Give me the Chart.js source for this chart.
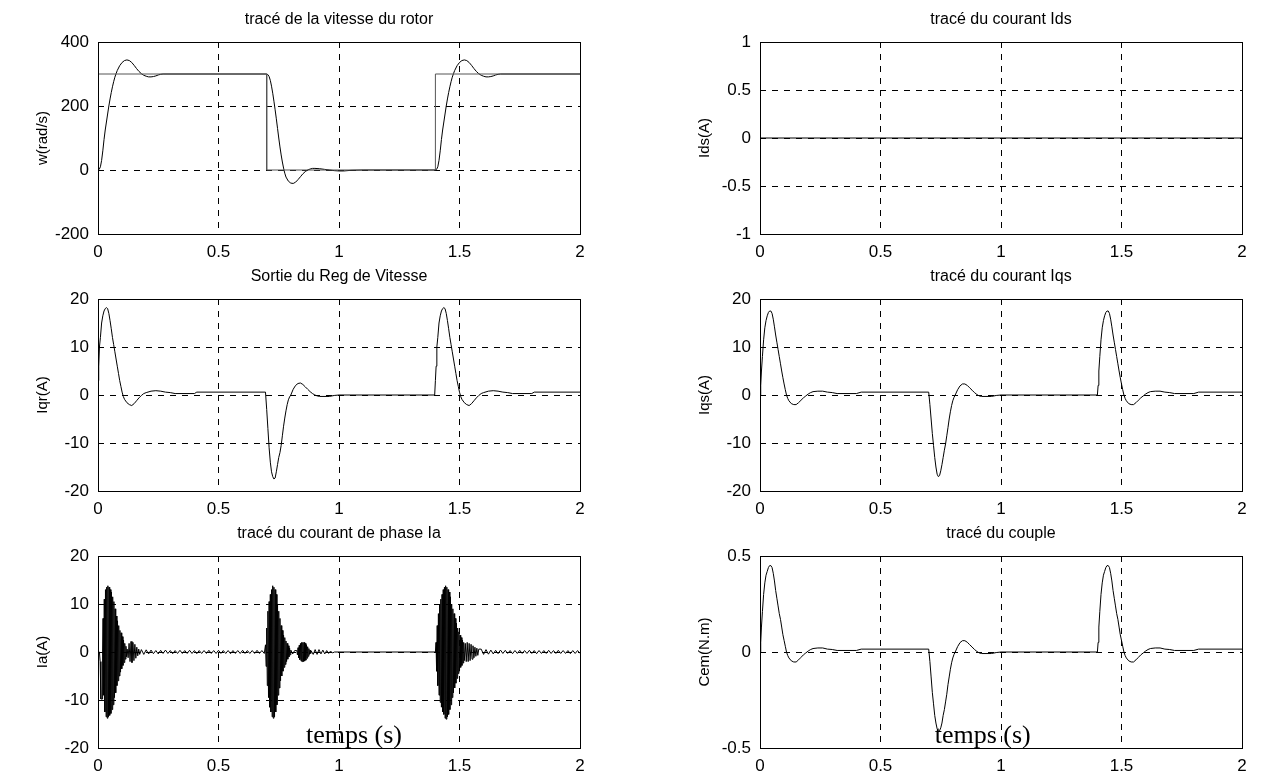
<!DOCTYPE html>
<html lang="fr">
<head>
<meta charset="utf-8">
<title>Commande vectorielle - résultats de simulation</title>
<script src="https://cdn.jsdelivr.net/npm/chart.js@4.4.1/dist/chart.umd.min.js"></script>
<style>
  html, body { margin: 0; padding: 0; background: #fff; overflow: hidden; }
  #figure { position: relative; width: 1263px; height: 778px; }
  #figure canvas { position: absolute; }
</style>
</head>
<body>
<div id="figure">
  <canvas id="speedChart"></canvas>
  <canvas id="idsChart"></canvas>
  <canvas id="iqrChart"></canvas>
  <canvas id="iqsChart"></canvas>
  <canvas id="iaChart"></canvas>
  <canvas id="cemChart"></canvas>
</div>
<script>
/* ==========================================================================
   Simulation results — 3x2 grid of time plots (Chart.js)
   ========================================================================== */

// ---- tick values -----------------------------------------------------------
const timeTicks = [0, 0.5, 1, 1.5, 2];
const speedTicks = [-200, 0, 200, 400];
const currentTicks = [-20, -10, 0, 10, 20];
const idsTicks = [-1, -0.5, 0, 0.5, 1];
const torqueTicks = [-0.5, 0, 0.5];

// ---- rotor speed (rad/s): reference step + response --------------------------
const speedRefTime = [0, 0.7, 0.7, 1.4, 1.4, 2];
const speedRefValues = [300, 300, 0, 0, 300, 300];

const speedTime = [
  0, 0.005, 0.01, 0.015, 0.02, 0.025, 0.03, 0.035, 0.04, 0.045,
  0.05, 0.055, 0.06, 0.065, 0.07, 0.075, 0.08, 0.09, 0.1, 0.11,
  0.12, 0.13, 0.14, 0.15, 0.16, 0.17, 0.18, 0.19, 0.2, 0.21,
  0.22, 0.23, 0.24, 0.25, 0.26, 0.27, 0.7,
  0.705, 0.71, 0.715, 0.72, 0.725, 0.73, 0.735, 0.74, 0.745, 0.75,
  0.755, 0.76, 0.765, 0.77, 0.775, 0.78, 0.79, 0.8, 0.81, 0.82,
  0.83, 0.84, 0.85, 0.86, 0.87, 0.88, 0.89, 0.9, 0.92, 0.94,
  0.96, 0.98, 1.0, 1.02, 1.05, 1.1, 1.4,
  1.405, 1.41, 1.415, 1.42, 1.425, 1.43, 1.435, 1.44, 1.445, 1.45,
  1.455, 1.46, 1.465, 1.47, 1.475, 1.48, 1.49, 1.5, 1.51, 1.52,
  1.53, 1.54, 1.55, 1.56, 1.57, 1.58, 1.59, 1.6, 1.61, 1.62,
  1.63, 1.64, 1.65, 1.66, 1.67, 2.0
];
const speedValues = [
  0, 2, 10, 30, 60, 95, 125, 150, 175, 200,
  222, 242, 260, 276, 290, 301, 311, 326, 336, 342,
  344, 342, 336, 327, 317, 308, 301, 296, 293, 291,
  291, 292, 294, 297, 299, 300, 300,
  298, 292, 280, 262, 240, 215, 188, 160, 130, 100,
  72, 47, 25, 6, -10, -22, -35, -41, -42, -38,
  -30, -21, -12, -5, 0, 3, 5, 5, 4, 2,
  0, -2, -3, -3, -1, 0, 0,
  2, 10, 30, 60, 95, 125, 150, 175, 200, 222,
  242, 260, 276, 290, 301, 311, 326, 336, 342, 344,
  342, 336, 327, 317, 308, 301, 296, 293, 291, 291,
  292, 294, 297, 299, 300, 300
];

// ---- speed regulator output Iqr (A) -------------------------------------------
const iqrTime = [
  0, 0.003, 0.006, 0.01, 0.015, 0.02, 0.025, 0.03, 0.035, 0.04,
  0.045, 0.05, 0.055, 0.06, 0.065, 0.07, 0.075, 0.08, 0.085, 0.09,
  0.095, 0.1, 0.105, 0.11, 0.12, 0.13, 0.14, 0.15, 0.16, 0.17,
  0.18, 0.19, 0.2, 0.22, 0.24, 0.26, 0.28, 0.3, 0.32, 0.4,
  0.41, 0.695,
  0.7, 0.705, 0.71, 0.715, 0.72, 0.725, 0.73, 0.735, 0.74, 0.745,
  0.75, 0.755, 0.76, 0.765, 0.77, 0.775, 0.78, 0.785, 0.79, 0.795,
  0.8, 0.81, 0.82, 0.83, 0.84, 0.85, 0.86, 0.87, 0.88, 0.89,
  0.9, 0.91, 0.92, 0.96, 0.98, 1.0, 1.397,
  1.4, 1.403, 1.406, 1.41, 1.415, 1.42, 1.425, 1.43, 1.435, 1.44,
  1.445, 1.45, 1.455, 1.46, 1.465, 1.47, 1.475, 1.48, 1.485, 1.49,
  1.495, 1.5, 1.505, 1.51, 1.52, 1.53, 1.54, 1.55, 1.56, 1.57,
  1.58, 1.59, 1.6, 1.62, 1.64, 1.66, 1.68, 1.7, 1.72, 1.8,
  1.81, 2.0
];
const iqrValues = [
  3, 6, 10, 12, 15, 16.5, 17.5, 18, 18.2, 18,
  17, 15.5, 13.8, 12, 10.5, 9, 7.5, 6, 4.5, 3,
  1.8, 0.6, -0.3, -0.9, -1.6, -2, -2.2, -1.8, -1.2, -0.6,
  -0.1, 0.3, 0.5, 0.8, 0.9, 0.8, 0.6, 0.5, 0.3, 0.3,
  0.6, 0.6,
  -3, -7, -11, -14, -16, -17, -17.5, -17.3, -16, -14.5,
  -13, -12, -10.5, -8.5, -6.5, -4.8, -3.3, -2, -1, -0.4,
  0, 1.2, 2, 2.4, 2.5, 2.2, 1.7, 1.2, 0.7, 0.3,
  0, -0.2, -0.3, -0.3, -0.1, 0, 0,
  3, 6, 10, 12, 15, 16.5, 17.5, 18, 18.2, 18,
  17, 15.5, 13.8, 12, 10.5, 9, 7.5, 6, 4.5, 3,
  1.8, 0.6, -0.3, -0.9, -1.6, -2, -2.2, -1.8, -1.2, -0.6,
  -0.1, 0.3, 0.5, 0.8, 0.9, 0.8, 0.6, 0.5, 0.3, 0.3,
  0.6, 0.6
];

// ---- Ids (A) -----------------------------------------------------------------
const idsTime = [0, 2];
const idsValues = [0, 0];

// ---- Iqs (A) and electromagnetic torque Cem (N.m), same time base -------------
const machineTime = [
  0, 0.003, 0.006, 0.01, 0.015, 0.02, 0.025, 0.03, 0.035, 0.04,
  0.045, 0.05, 0.055, 0.06, 0.065, 0.07, 0.075, 0.08, 0.085, 0.09,
  0.095, 0.1, 0.105, 0.11, 0.115, 0.12, 0.13, 0.14, 0.15, 0.16,
  0.17, 0.18, 0.19, 0.2, 0.21, 0.22, 0.24, 0.26, 0.28, 0.3,
  0.32, 0.4, 0.42, 0.7,
  0.705, 0.71, 0.715, 0.72, 0.725, 0.73, 0.735, 0.74, 0.745, 0.75,
  0.755, 0.76, 0.765, 0.77, 0.775, 0.78, 0.785, 0.79, 0.795, 0.8,
  0.805, 0.81, 0.82, 0.83, 0.84, 0.85, 0.86, 0.87, 0.88, 0.89,
  0.9, 0.91, 0.92, 0.96, 0.98, 1.0, 1.4,
  1.403, 1.406, 1.41, 1.415, 1.42, 1.425, 1.43, 1.435, 1.44, 1.445,
  1.45, 1.455, 1.46, 1.465, 1.47, 1.475, 1.48, 1.485, 1.49, 1.495,
  1.5, 1.505, 1.51, 1.515, 1.52, 1.53, 1.54, 1.55, 1.56, 1.57,
  1.58, 1.59, 1.6, 1.61, 1.62, 1.64, 1.66, 1.68, 1.7, 1.72,
  1.8, 1.82, 2.0
];
const iqsValues = [
  0, 2, 5, 8, 11.5, 14, 15.5, 16.5, 17.2, 17.5,
  17.5, 17, 15.8, 14.2, 12.5, 11, 9.5, 8, 6.5, 5,
  3.6, 2.3, 1.1, 0, -0.7, -1.2, -1.8, -2, -2, -1.6,
  -1.1, -0.6, -0.2, 0.2, 0.5, 0.7, 0.8, 0.8, 0.6, 0.5,
  0.3, 0.3, 0.6, 0.6,
  -2, -5, -8, -10.5, -13, -15, -16.5, -17, -16.8, -15.8,
  -14.5, -13, -11.5, -10.2, -8.5, -6.8, -5, -3.5, -2.2, -1.2,
  -0.5, 0, 1.1, 1.9, 2.3, 2.3, 2, 1.5, 1, 0.5,
  0.1, -0.2, -0.3, -0.3, -0.1, 0, 0,
  2, 5, 8, 11.5, 14, 15.5, 16.5, 17.2, 17.5, 17.5,
  17, 15.8, 14.2, 12.5, 11, 9.5, 8, 6.5, 5, 3.6,
  2.3, 1.1, 0, -0.7, -1.2, -1.8, -2, -2, -1.6, -1.1,
  -0.6, -0.2, 0.2, 0.5, 0.7, 0.8, 0.8, 0.6, 0.5, 0.3,
  0.3, 0.6, 0.6
];
const cemValues = [
  0, 0.05, 0.13, 0.21, 0.3, 0.36, 0.4, 0.42, 0.44, 0.45,
  0.45, 0.44, 0.41, 0.37, 0.32, 0.28, 0.24, 0.2, 0.17, 0.13,
  0.09, 0.06, 0.03, 0, -0.018, -0.031, -0.046, -0.052, -0.052, -0.041,
  -0.028, -0.015, -0.005, 0.005, 0.013, 0.018, 0.021, 0.021, 0.015, 0.013,
  0.008, 0.008, 0.015, 0.015,
  -0.05, -0.13, -0.21, -0.27, -0.33, -0.37, -0.4, -0.415, -0.41, -0.395,
  -0.37, -0.33, -0.3, -0.26, -0.22, -0.17, -0.13, -0.09, -0.056, -0.031,
  -0.013, 0, 0.028, 0.049, 0.059, 0.059, 0.051, 0.038, 0.026, 0.013,
  0.003, -0.005, -0.008, -0.008, -0.003, 0, 0,
  0.05, 0.13, 0.21, 0.3, 0.36, 0.4, 0.42, 0.44, 0.45, 0.45,
  0.44, 0.41, 0.37, 0.32, 0.28, 0.24, 0.2, 0.17, 0.13, 0.09,
  0.06, 0.03, 0, -0.018, -0.031, -0.046, -0.052, -0.052, -0.041, -0.028,
  -0.015, -0.005, 0.005, 0.013, 0.018, 0.021, 0.021, 0.015, 0.013, 0.008,
  0.008, 0.015, 0.015
];

// ---- phase current Ia (A), read piece by piece --------------------------------
const iaStartTime = [0, 0.006, 0.009, 0.012, 0.017, 0.019];
const iaStartValues = [0, 0, -2, -9.8, -9.8, 0];

const iaBurst1Time = [
  0.021, 0.0235, 0.026, 0.0285, 0.031, 0.0335, 0.036, 0.0385, 0.041, 0.0435,
  0.046, 0.0485, 0.051, 0.0535, 0.056, 0.0585, 0.061, 0.0635, 0.066, 0.0685,
  0.071, 0.0735, 0.076, 0.0785, 0.081, 0.0835, 0.086, 0.0885, 0.091, 0.0935,
  0.096, 0.0985, 0.101, 0.1035, 0.106, 0.1085, 0.111, 0.1135, 0.116, 0.1185,
  0.121
];
const iaBurst1Values = [
  7, -9, 11, -12.5, 13, -13.5, 13.5, -13.8, 13.8, -13.5,
  13.5, -13.2, 13, -12.8, 12.5, -12, 11.5, -11, 10.5, -9.5,
  9, -8.5, 7.5, -7, 6.5, -6, 5.5, -5, 4.5, -4.2,
  4, -3.5, 3.2, -2.8, 2.5, -2.2, 1.8, -1.5, 1.2, -1,
  0.6
];

const iaTail1Time = [0.125, 0.129, 0.133, 0.137, 0.141, 0.145, 0.149, 0.153, 0.157, 0.161, 0.165, 0.169, 0.173];
const iaTail1Values = [-1.2, 1.8, -2, 2.2, -2.2, 2, -1.8, 1.6, -1.3, 1, -0.8, 0.6, -0.5];

const iaNoise1Time = [
  0.18, 0.19, 0.2, 0.21, 0.22, 0.23, 0.24, 0.25, 0.26, 0.27,
  0.28, 0.29, 0.3, 0.31, 0.32, 0.33, 0.34, 0.35, 0.36, 0.37,
  0.38, 0.39, 0.4, 0.41, 0.42, 0.43, 0.44, 0.45, 0.46, 0.47,
  0.48, 0.49, 0.5, 0.51, 0.52, 0.53, 0.54, 0.55, 0.56, 0.57,
  0.58, 0.59, 0.6, 0.61, 0.62, 0.63, 0.64, 0.65, 0.66, 0.67,
  0.68, 0.69
];
const iaNoise1Values = [
  0.5, -0.5, 0.45, -0.4, 0.4, -0.35, 0.3, -0.4, 0.35, -0.3,
  0.4, -0.3, 0.3, -0.35, 0.3, -0.3, 0.35, -0.3, 0.3, -0.3,
  0.35, -0.3, 0.3, -0.35, 0.3, -0.3, 0.3, -0.3, 0.35, -0.3,
  0.3, -0.3, 0.35, -0.3, 0.3, -0.3, 0.3, -0.35, 0.3, -0.3,
  0.3, -0.3, 0.35, -0.3, 0.3, -0.3, 0.3, -0.3, 0.35, -0.3,
  0.3, -0.3
];

const iaBurst2Time = [
  0.695, 0.6975, 0.7, 0.7025, 0.705, 0.7075, 0.71, 0.7125, 0.715, 0.7175,
  0.72, 0.7225, 0.725, 0.7275, 0.73, 0.7325, 0.735, 0.7375, 0.74, 0.7425,
  0.745, 0.7475, 0.75, 0.7525, 0.755, 0.7575, 0.76, 0.7625, 0.765, 0.7675,
  0.77, 0.7725, 0.775, 0.7775, 0.78, 0.7825, 0.785, 0.7875, 0.79, 0.7925,
  0.795, 0.7975, 0.8
];
const iaBurst2Values = [
  1.5, -3, 5, -7, 8.5, -9.5, 10.5, -11.5, 12, -12.5,
  13, -13.5, 13.8, -13.8, 13.5, -13.5, 13, -12.5, 12, -11,
  10, -9, 8.5, -7.5, 7, -6, 5.5, -5, 4.5, -4,
  3.5, -3.2, 3, -2.6, 2.3, -2, 1.8, -1.5, 1.3, -1,
  0.8, -0.6, 0.4
];

const iaBallTime = [
  0.808, 0.816,
  0.825, 0.8275, 0.83, 0.8325, 0.835, 0.8375, 0.84, 0.8425, 0.845, 0.8475,
  0.85, 0.8525, 0.855, 0.8575, 0.86, 0.8625, 0.865, 0.8675, 0.87, 0.8725,
  0.875, 0.8775, 0.88, 0.8825, 0.885
];
const iaBallValues = [
  -0.4, 0.3,
  0.3, -0.6, 0.9, -1.2, 1.4, -1.6, 1.8, -1.9, 2, -2,
  2, -2, 2, -1.9, 1.8, -1.7, 1.5, -1.3, 1.1, -0.9,
  0.7, -0.5, 0.4, -0.3, 0.2
];

const iaRingTime = [0.893, 0.901, 0.909, 0.917, 0.925, 0.933, 0.941, 0.949, 0.957, 0.965, 0.973, 0.981];
const iaRingValues = [-0.5, 0.5, -0.5, 0.5, -0.4, 0.4, -0.4, 0.3, -0.3, 0.2, -0.2, 0];

const iaBurst3Time = [
  1.4, 1.4025, 1.405, 1.4075, 1.41, 1.4125, 1.415, 1.4175, 1.42, 1.4225,
  1.425, 1.4275, 1.43, 1.4325, 1.435, 1.4375, 1.44, 1.4425, 1.445, 1.4475,
  1.45, 1.4525, 1.455, 1.4575, 1.46, 1.4625, 1.465, 1.4675, 1.47, 1.4725,
  1.475, 1.4775, 1.48, 1.4825, 1.485, 1.4875, 1.49, 1.4925, 1.495, 1.4975,
  1.5, 1.5025, 1.505, 1.5075, 1.51, 1.5125, 1.515, 1.5175, 1.52
];
const iaBurst3Values = [
  0, 2, -4, 5.5, -7, 8, -9, 10, -10.5, 11,
  -11.5, 12, -12.5, 13, -13, 13.5, -13.8, 13.8, -14, 13.5,
  -13.5, 13, -13, 12.5, -12, 11.5, -11, 10, -9.5, 9,
  -8.5, 8, -7.5, 7, -6.5, 6, -5.5, 5, -4.5, 4.2,
  -4, 3.5, -3.2, 3, -2.8, 2.5, -2.3, 2, -1.8
];

const iaTail3Time = [1.524, 1.528, 1.532, 1.536, 1.54, 1.544, 1.548, 1.552, 1.556, 1.56, 1.564, 1.568, 1.572, 1.576, 1.58];
const iaTail3Values = [1.8, -2, 2, -2, 1.8, -1.8, 1.6, -1.5, 1.3, -1.2, 1, -0.9, 0.8, -0.7, 0.6];

const iaNoise2Time = [
  1.59, 1.6, 1.61, 1.62, 1.63, 1.64, 1.65, 1.66, 1.67, 1.68,
  1.69, 1.7, 1.71, 1.72, 1.73, 1.74, 1.75, 1.76, 1.77, 1.78,
  1.79, 1.8, 1.81, 1.82, 1.83, 1.84, 1.85, 1.86, 1.87, 1.88,
  1.89, 1.9, 1.91, 1.92, 1.93, 1.94, 1.95, 1.96, 1.97, 1.98,
  1.99, 2.0
];
const iaNoise2Values = [
  0.6, -0.5, 0.5, -0.45, 0.4, -0.4, 0.35, -0.35, 0.4, -0.3,
  0.35, -0.3, 0.3, -0.35, 0.3, -0.3, 0.35, -0.3, 0.3, -0.3,
  0.35, -0.3, 0.3, -0.35, 0.3, -0.3, 0.3, -0.3, 0.35, -0.3,
  0.3, -0.3, 0.35, -0.3, 0.3, -0.3, 0.3, -0.35, 0.3, -0.3,
  0.3, -0.3
];

const iaTime = [].concat(iaStartTime, iaBurst1Time, iaTail1Time, iaNoise1Time, iaBurst2Time,
  iaBallTime, iaRingTime, iaBurst3Time, iaTail3Time, iaNoise2Time);
const iaValues = [].concat(iaStartValues, iaBurst1Values, iaTail1Values, iaNoise1Values, iaBurst2Values,
  iaBallValues, iaRingValues, iaBurst3Values, iaTail3Values, iaNoise2Values);

// ---- layout of one subplot (pixels) --------------------------------------------
const PLOT_W = 482;
const PLOT_H = 192;
const AXIS_W = 90;      // room for y tick labels + y label
const RIGHT_PAD = 20;
const TITLE_H = 32;     // title line height (20) + bottom padding (12)
const XAXIS_H = 30;

Chart.defaults.font.family = "'Liberation Sans', Arial, Helvetica, sans-serif";
Chart.defaults.color = '#000';

function toPoints(t, v) {
    if (t.length !== v.length) console.error('length mismatch', t.length, v.length);
    return t.map((x, i) => ({ x: x, y: v[i] }));
}

/**
 * Draws the solid box around the plot area and the optional "temps (s)" note
 */
const framePlugin = {
    id: 'frame',
    afterDatasetsDraw(chart, args, opts) {
        const { ctx, chartArea: a, scales } = chart;
        ctx.save();
        ctx.strokeStyle = '#000';
        ctx.lineWidth = 1;
        ctx.setLineDash([]);
        const l = Math.round(a.left) + 0.5, t = Math.round(a.top) + 0.5;
        const r = Math.round(a.right) + 0.5, b = Math.round(a.bottom) + 0.5;
        ctx.strokeRect(l, t, r - l, b - t);
        if (opts.note) {
            ctx.font = "26px 'Liberation Serif', 'Times New Roman', serif";
            ctx.fillStyle = '#000';
            ctx.textAlign = 'left';
            ctx.textBaseline = 'alphabetic';
            ctx.fillText(opts.note.text, scales.x.getPixelForValue(opts.note.x), scales.y.getPixelForValue(opts.note.y));
        }
        ctx.restore();
    }
};

function makeAxis(ticksList, extra) {
    return Object.assign({
        type: 'linear',
        min: ticksList[0],
        max: ticksList[ticksList.length - 1],
        afterBuildTicks: s => { s.ticks = ticksList.map(v => ({ value: v })); },
        ticks: { color: '#000', font: { size: 17 }, autoSkip: false, maxRotation: 0, callback: v => String(v) },
        grid: { color: '#000', lineWidth: 1, drawTicks: false },
        border: { display: false, dash: [6, 6] }
    }, extra);
}

function renderPanel(p) {
    const canvas = document.getElementById(p.id);
    canvas.width = AXIS_W + PLOT_W + RIGHT_PAD;
    canvas.height = TITLE_H + PLOT_H + XAXIS_H;
    canvas.style.left = (p.left - AXIS_W) + 'px';
    canvas.style.top = (p.top - TITLE_H) + 'px';

    const xAxis = makeAxis(timeTicks, { afterFit: s => { s.height = XAXIS_H; } });
    xAxis.ticks.padding = 8;
    const yAxis = makeAxis(p.yTicks, {
        afterFit: s => { s.width = AXIS_W; },
        title: { display: true, text: p.ylabel, color: '#000', font: { size: 15 }, padding: { top: 26, bottom: 0 } }
    });
    yAxis.ticks.padding = 9;

    return new Chart(canvas.getContext('2d'), {
        type: 'line',
        data: {
            datasets: p.series.map(s => ({
                data: toPoints(s.t, s.v),
                borderColor: s.color || '#000',
                borderWidth: 1,
                pointRadius: 0,
                tension: 0,
                fill: false
            }))
        },
        options: {
            responsive: false,
            animation: false,
            events: [],
            layout: { padding: { left: 0, right: RIGHT_PAD, top: 0, bottom: 0 } },
            plugins: {
                legend: { display: false },
                tooltip: { enabled: false },
                title: {
                    display: true, text: p.title, fullSize: false, color: '#000',
                    font: { size: 16, weight: 'normal', lineHeight: 1.25 },
                    padding: { top: 0, bottom: 12 }
                },
                frame: { note: p.note || null }
            },
            scales: { x: xAxis, y: yAxis }
        },
        plugins: [framePlugin]
    });
}

const panels = [
    { id: 'speedChart', left: 98, top: 42, title: 'tracé de la vitesse du rotor', ylabel: 'w(rad/s)', yTicks: speedTicks,
      series: [{ t: speedRefTime, v: speedRefValues, color: '#555' }, { t: speedTime, v: speedValues }] },
    { id: 'idsChart', left: 760, top: 42, title: 'tracé du courant Ids', ylabel: 'Ids(A)', yTicks: idsTicks,
      series: [{ t: idsTime, v: idsValues }] },
    { id: 'iqrChart', left: 98, top: 299, title: 'Sortie du Reg de Vitesse', ylabel: 'Iqr(A)', yTicks: currentTicks,
      series: [{ t: iqrTime, v: iqrValues }] },
    { id: 'iqsChart', left: 760, top: 299, title: 'tracé du courant Iqs', ylabel: 'Iqs(A)', yTicks: currentTicks,
      series: [{ t: machineTime, v: iqsValues }] },
    { id: 'iaChart', left: 98, top: 556, title: 'tracé du courant de phase Ia', ylabel: 'Ia(A)', yTicks: currentTicks,
      series: [{ t: iaTime, v: iaValues }], note: { text: 'temps (s)', x: 0.863, y: -18.9 } },
    { id: 'cemChart', left: 760, top: 556, title: 'tracé du couple', ylabel: 'Cem(N.m)', yTicks: torqueTicks,
      series: [{ t: machineTime, v: cemValues }], note: { text: 'temps (s)', x: 0.725, y: -0.472 } }
];

panels.forEach(renderPanel);
</script>
</body>
</html>
